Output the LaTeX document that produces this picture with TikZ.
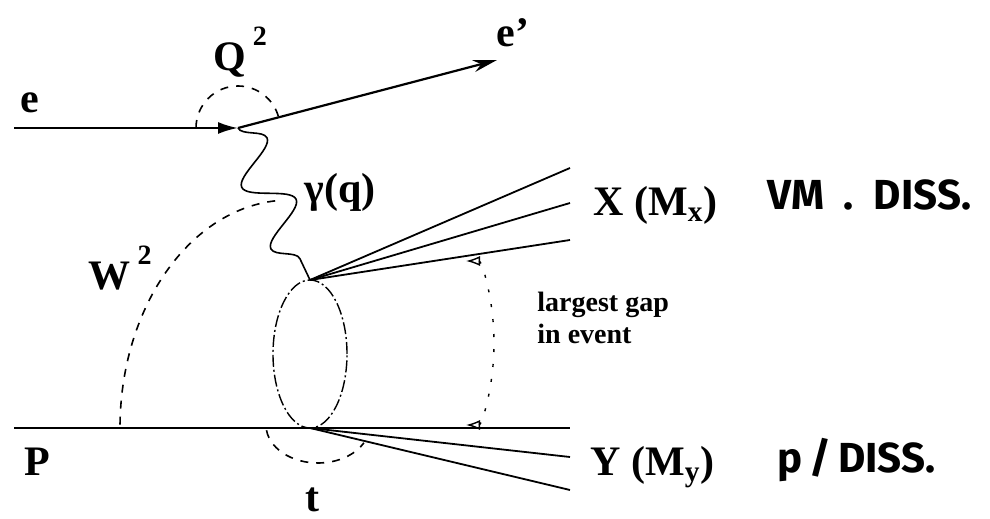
\documentclass[tikz,border=0pt]{standalone}
\usepackage{fontspec}
\setmainfont{Liberation Serif}
\newfontfamily\handfont{Fira Sans}
\usetikzlibrary{arrows.meta, decorations.pathmorphing}

\begin{document}
\begin{tikzpicture}[x=0.5pt, y=0.5pt,
	lbl/.style={font=\fontsize{21}{24}\selectfont\bfseries, inner sep=0pt},
	hand/.style={font=\handfont\fontsize{21}{24}\selectfont\bfseries, inner sep=0pt},
	lepton/.style={line width=1.1pt},
	jet/.style={line width=0.9pt},
	kin/.style={line width=0.8pt, dash pattern=on 4pt off 4pt},
	gapline/.style={line width=0.7pt, dash pattern=on 1.5pt off 6pt},
	blob/.style={line width=0.7pt, dash pattern=on 6pt off 1.5pt on 1pt off 1.5pt},
	photon/.style={line width=0.8pt, decorate, decoration={snake, amplitude=11pt, segment length=34pt}}]
	\useasboundingbox (0,0) rectangle (990,519);
	% Vertices and line ends:
	\coordinate (ein) at (14,391);
	\coordinate (vtx) at (238,391);
	\coordinate (eout) at (497,459);
	\coordinate (pin) at (14,91);
	\coordinate (top) at (310,239);
	\coordinate (bot) at (310,91);
	\coordinate (pout) at (570,91);
	\coordinate (x1) at (570,351);
	\coordinate (x2) at (570,316);
	\coordinate (x3) at (570,279);
	\coordinate (y1) at (570,62);
	\coordinate (y2) at (570,29);
	\coordinate (blobc) at (310,165);
	\coordinate (wc) at (290,91);
	\coordinate (tc) at (318,94);
	\coordinate (gapc) at (466,176);
	% Lines:
	\draw[lepton, -{Latex[length=10pt, width=6pt]}] (ein) -- (vtx);
	\draw[lepton, -{Stealth[length=12pt, width=6pt]}] (vtx) -- (eout);
	\draw[photon] (vtx) -- (top);
	\draw[line width=1.3pt] (pin) -- (bot) -- (pout);
	\foreach \j in {x1,x2,x3} \draw[jet] (top) -- (\j);
	\foreach \j in {y1,y2} \draw[jet] (bot) -- (\j);
	\draw[blob] (blobc) ellipse [x radius=37, y radius=74];
	% Kinematic arcs:
	\draw[kin] (vtx) ++(180:42) arc[start angle=180, end angle=15, radius=42];
	\draw[kin] (wc) ++(95:170 and 228) arc[start angle=95, end angle=180, x radius=170, y radius=228];
	\draw[kin] (tc) ++(188:52 and 38) arc[start angle=188, end angle=332, x radius=52, y radius=38];
	\draw[gapline, {Latex[open, length=7pt, width=5pt]}-{Latex[open, length=7pt, width=5pt]}] (gapc) ++(90:28 and 82) arc[start angle=90, end angle=-90, x radius=28, y radius=82];
	% Labels:
	\node[lbl] (e) at (30,416) {e};
	\node[lbl] (ep) at (513,486) {e'};
	\node[lbl] (q2) at (240,467) {Q\,\raisebox{.6em}{\fontsize{14}{14}\selectfont 2}};
	\node[lbl] (gam) at (340,327) {γ(q)};
	\node[lbl] (w2) at (120,251) {W\,\raisebox{.6em}{\fontsize{14}{14}\selectfont 2}};
	\node[lbl] (p) at (37,57) {P};
	\node[lbl] (t) at (312,19) {t};
	\node[lbl, anchor=west] (xm) at (593,314) {X (M\textsubscript{x})};
	\node[lbl, anchor=west] (ym) at (590,52) {Y (M\textsubscript{y})};
	\node[font=\fontsize{14}{16}\selectfont\bfseries, inner sep=0pt, align=left, anchor=west] (gap) at (537,201) {largest gap\\in event};
	\node[hand, anchor=west] (vm) at (767,324) {VM\ \ .\ \ DISS.};
	\node[hand, anchor=west] (pd) at (777,59) {p\,/\,DISS.};
\end{tikzpicture}
\end{document}
